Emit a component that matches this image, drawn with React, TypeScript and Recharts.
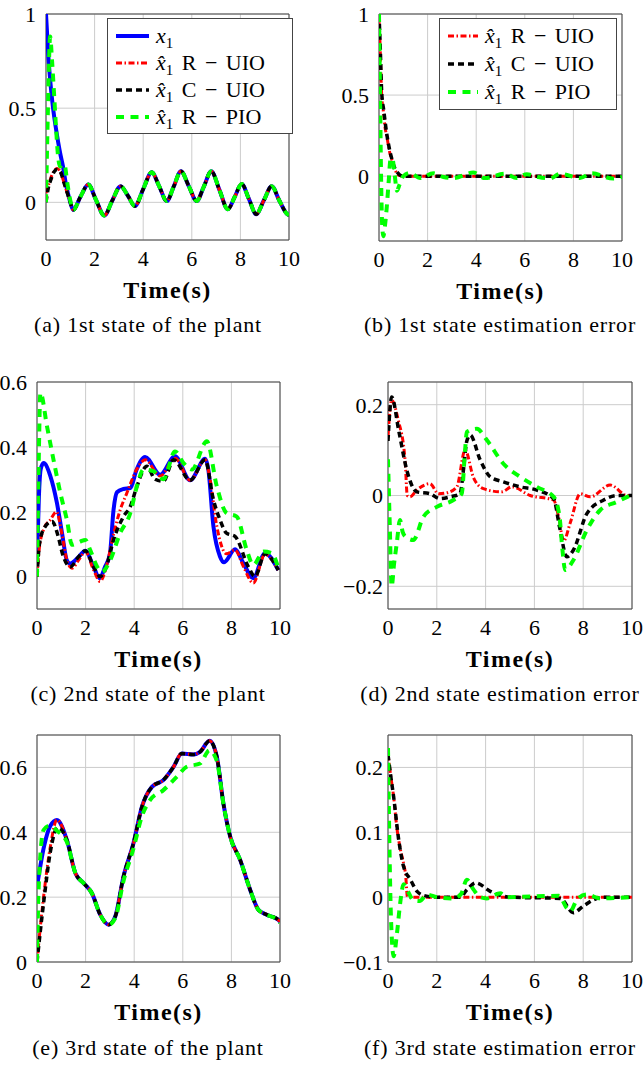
import React from 'react'
import { CartesianGrid, Legend, Line, LineChart, ReferenceArea, XAxis, YAxis } from 'recharts'

type Pt = [number, number]

const X_TICKS = [0, 2, 4, 6, 8, 10]

// (a) 1st state of the plant
const aTail: Pt[] = [[1.12, -0.04], [1.42, 0.03], [1.74, 0.095], [2.05, 0.015], [2.4, -0.07], [2.73, 0.01], [3.07, 0.086], [3.37, 0.035], [3.66, -0.02], [4.0, 0.07], [4.35, 0.16], [4.66, 0.085], [4.97, 0.007], [5.26, 0.085], [5.55, 0.165], [5.88, 0.085], [6.2, 0.007], [6.5, 0.085], [6.8, 0.165], [7.14, 0.065], [7.48, -0.037], [7.77, 0.03], [8.05, 0.098], [8.35, 0.018], [8.65, -0.063], [8.97, 0.012], [9.29, 0.086], [9.6, 0.01], [9.93, -0.063], [10, -0.068]]
const aX1: Pt[] = [[0, 1], [0.1, 0.77], [0.2, 0.61], [0.3, 0.49], [0.4, 0.4], [0.5, 0.32], [0.6, 0.25], [0.7, 0.19], [0.8, 0.11], [0.9, 0.05], [1.0, 0.0], ...aTail]
const aRUIO: Pt[] = [[0, 0.05], [0.1, 0.09], [0.2, 0.13], [0.3, 0.16], [0.45, 0.18], [0.6, 0.16], [0.75, 0.1], [0.9, 0.04], [1.0, 0.0], ...aTail]
const aCUIO: Pt[] = [[0, 0], [0.1, 0.08], [0.2, 0.12], [0.3, 0.155], [0.45, 0.175], [0.6, 0.16], [0.75, 0.1], [0.9, 0.04], [1.0, 0.0], ...aTail]
const aRPIO: Pt[] = [[0, 0], [0.08, 0.5], [0.17, 0.88], [0.25, 0.75], [0.33, 0.58], [0.42, 0.38], [0.5, 0.24], [0.58, 0.19], [0.68, 0.2], [0.76, 0.2], [0.88, 0.1], [1.0, 0.01], ...aTail]

// (b) 1st state estimation error
const bRUIO: Pt[] = [[0, 1], [0.05, 0.78], [0.11, 0.5], [0.18, 0.4], [0.25, 0.3], [0.33, 0.24], [0.42, 0.16], [0.53, 0.1], [0.63, 0.05], [0.74, 0.016], [0.86, 0.003], [1.0, 0], [10, 0]]
const bCUIO: Pt[] = [[0, 1], [0.05, 0.8], [0.11, 0.52], [0.2, 0.4], [0.3, 0.28], [0.4, 0.19], [0.52, 0.11], [0.62, 0.06], [0.72, 0.03], [0.85, 0.008], [1.0, 0], [10, 0]]
const bRPIO: Pt[] = [[0, 1], [0.04, 0.55], [0.08, 0.05], [0.13, -0.3], [0.18, -0.37], [0.25, -0.3], [0.32, -0.19], [0.4, -0.03], [0.47, 0.1], [0.55, 0.11], [0.63, 0.03], [0.74, -0.09], [0.85, -0.05], [1.0, 0.0], [1.28, 0.02], [1.69, -0.012], [2.24, 0.018], [2.65, -0.005], [3.06, -0.012], [3.88, 0.022], [4.36, -0.012], [5.19, 0.015], [5.67, -0.012], [6.08, 0.012], [6.55, -0.005], [7.04, -0.014], [7.45, 0.015], [8.27, -0.012], [8.75, 0.018], [9.64, -0.015], [10, -0.005]]

// (c) 2nd state of the plant
const cX2: Pt[] = [[0, 0.05], [0.08, 0.25], [0.15, 0.33], [0.27, 0.35], [0.55, 0.31], [0.82, 0.227], [1.03, 0.134], [1.23, 0.05], [1.37, 0.04], [1.71, 0.06], [1.99, 0.08], [2.33, 0.03], [2.58, -0.005], [2.8, 0.03], [3.0, 0.07], [3.15, 0.206], [3.29, 0.26], [3.56, 0.27], [3.84, 0.273], [4.1, 0.33], [4.45, 0.369], [5.07, 0.314], [5.68, 0.371], [6.3, 0.297], [6.92, 0.363], [7.05, 0.33], [7.26, 0.155], [7.53, 0.062], [7.7, 0.044], [8.15, 0.084], [8.5, 0.04], [8.9, -0.005], [9.38, 0.072], [9.93, 0.02]]
const cRUIO: Pt[] = [[0, 0], [0.1, 0.09], [0.3, 0.15], [0.55, 0.175], [0.8, 0.2], [1.03, 0.13], [1.23, 0.05], [1.44, 0.026], [1.75, 0.055], [1.99, 0.077], [2.33, 0.02], [2.6, -0.015], [2.85, 0.03], [3.15, 0.13], [3.4, 0.2], [3.7, 0.258], [4.1, 0.33], [4.45, 0.36], [5.07, 0.31], [5.68, 0.365], [6.3, 0.297], [6.92, 0.36], [7.1, 0.31], [7.4, 0.155], [7.8, 0.07], [8.15, 0.082], [8.5, 0.03], [8.9, -0.02], [9.38, 0.068], [9.93, 0.02]]
const cCUIO: Pt[] = [[0, 0], [0.1, 0.1], [0.3, 0.15], [0.62, 0.17], [0.85, 0.13], [1.05, 0.07], [1.37, 0.03], [1.7, 0.06], [1.99, 0.08], [2.33, 0.03], [2.6, 0], [2.85, 0.03], [3.15, 0.113], [3.56, 0.185], [3.84, 0.216], [4.11, 0.278], [4.52, 0.34], [4.86, 0.3], [5.2, 0.294], [5.62, 0.36], [6.3, 0.297], [6.92, 0.36], [7.26, 0.237], [7.53, 0.175], [7.8, 0.134], [8.15, 0.124], [8.7, 0.03], [8.97, 0], [9.38, 0.07], [9.93, 0.02]]
const cRPIO: Pt[] = [[0, 0], [0.07, 0.35], [0.14, 0.567], [0.41, 0.464], [0.68, 0.36], [0.96, 0.258], [1.23, 0.175], [1.44, 0.098], [1.78, 0.108], [1.99, 0.113], [2.19, 0.082], [2.47, 0.031], [2.67, 0.015], [3.01, 0.05], [3.42, 0.134], [3.84, 0.196], [4.11, 0.278], [4.38, 0.33], [4.79, 0.325], [5.2, 0.3], [5.68, 0.386], [6.03, 0.35], [6.37, 0.33], [6.99, 0.417], [7.4, 0.278], [7.8, 0.196], [8.22, 0.185], [8.63, 0.082], [8.9, 0.036], [9.32, 0.077], [9.66, 0.072], [9.93, 0.026]]

// (d) 2nd state estimation error
const dRUIO: Pt[] = [[0, 0.13], [0.15, 0.21], [0.42, 0.166], [0.7, 0.078], [0.79, 0.0], [0.9, -0.003], [1.18, 0.012], [1.72, 0.026], [2.07, 0.004], [2.41, 0.006], [2.82, 0.019], [3.16, 0.1], [3.5, 0.04], [3.91, 0.015], [4.66, 0.008], [5.08, 0.019], [5.83, 0.0], [6.79, -0.01], [6.99, -0.047], [7.2, -0.1], [7.47, -0.06], [7.88, 0.004], [8.29, -0.003], [9.11, 0.023], [9.8, 0], [10, 0]]
const dCUIO: Pt[] = [[0, 0.12], [0.15, 0.217], [0.45, 0.14], [0.77, 0.056], [1.18, 0.008], [1.72, 0.004], [2.13, -0.007], [2.54, -0.003], [2.95, 0.004], [3.1, 0.06], [3.23, 0.12], [3.37, 0.133], [3.78, 0.078], [4.19, 0.041], [4.73, 0.03], [5.42, 0.019], [6.1, 0.012], [6.79, -0.007], [7.03, -0.069], [7.33, -0.135], [7.6, -0.12], [8.15, -0.04], [8.84, -0.01], [9.38, 0], [10, 0]]
const dRPIO: Pt[] = [[0, 0.08], [0.07, -0.06], [0.15, -0.2], [0.25, -0.15], [0.36, -0.105], [0.49, -0.054], [0.6, -0.08], [0.7, -0.09], [1.04, -0.098], [1.45, -0.047], [2.0, -0.025], [2.68, -0.01], [3.02, 0.004], [3.16, 0.1], [3.23, 0.14], [3.64, 0.147], [4.05, 0.122], [4.73, 0.07], [5.42, 0.041], [6.1, 0.019], [6.79, -0.003], [7.03, -0.047], [7.15, -0.12], [7.26, -0.164], [7.6, -0.142], [8.15, -0.076], [8.7, -0.032], [9.38, -0.014], [9.93, 0]]

// (e) 3rd state of the plant
const eTail: Pt[] = [[1.23, 0.376], [1.58, 0.274], [1.92, 0.243], [2.26, 0.212], [2.6, 0.146], [2.95, 0.115], [3.22, 0.14], [3.56, 0.264], [3.97, 0.366], [4.32, 0.479], [4.73, 0.54], [5.2, 0.561], [5.62, 0.602], [5.96, 0.643], [6.44, 0.64], [6.71, 0.648], [7.1, 0.682], [7.4, 0.633], [7.67, 0.489], [7.95, 0.387], [8.36, 0.315], [8.77, 0.223], [9.11, 0.161], [9.45, 0.146], [9.93, 0.13], [10, 0.125]]
const eX3: Pt[] = [[0, 0.233], [0.3, 0.36], [0.55, 0.42], [0.82, 0.438], ...eTail]
const eRUIO: Pt[] = [[0, 0], [0.1, 0.08], [0.27, 0.2], [0.55, 0.356], [0.82, 0.438], ...eTail]
const eCUIO: Pt[] = [[0, 0], [0.1, 0.07], [0.3, 0.2], [0.55, 0.34], [0.85, 0.415], ...eTail]
const eRPIO: Pt[] = [[0, 0], [0.07, 0.233], [0.27, 0.407], [0.5, 0.42], [0.82, 0.405], [1.23, 0.37], [1.58, 0.274], [1.92, 0.243], [2.26, 0.212], [2.6, 0.146], [2.95, 0.115], [3.22, 0.135], [3.56, 0.25], [3.97, 0.35], [4.32, 0.45], [4.66, 0.5], [5.2, 0.53], [5.75, 0.571], [6.16, 0.602], [6.71, 0.612], [7.1, 0.653], [7.4, 0.62], [7.67, 0.489], [7.95, 0.387], [8.36, 0.315], [8.77, 0.223], [9.11, 0.161], [9.45, 0.146], [9.93, 0.128], [10, 0.12]]

// (f) 3rd state estimation error
const fRUIO: Pt[] = [[0, 0.22], [0.1, 0.19], [0.23, 0.155], [0.37, 0.105], [0.5, 0.075], [0.65, 0.05], [0.72, 0.035], [0.8, 0.0], [10, 0]]
const fCUIO: Pt[] = [[0, 0.22], [0.1, 0.19], [0.23, 0.155], [0.44, 0.088], [0.64, 0.047], [0.92, 0.027], [1.19, 0.009], [1.53, 0.002], [2.0, 0], [2.95, 0], [3.25, 0.012], [3.6, 0.022], [4.19, 0.009], [4.6, 0.003], [5.0, 0], [7.06, -0.002], [7.6, -0.024], [8.0, -0.014], [8.43, -0.004], [8.84, 0], [10, 0]]
const fRPIO: Pt[] = [[0, 0.23], [0.05, 0.1], [0.12, -0.03], [0.23, -0.091], [0.37, -0.055], [0.5, -0.009], [0.64, 0.02], [0.8, 0.01], [1.05, -0.005], [1.3, -0.006], [1.6, 0.004], [2.0, 0], [2.68, -0.002], [3.0, 0.005], [3.23, 0.027], [3.5, 0.012], [3.78, 0.0], [4.05, -0.002], [4.6, 0.006], [4.87, 0], [7.0, 0.002], [7.33, -0.017], [7.47, -0.022], [7.74, -0.004], [8.15, 0.004], [8.7, -0.002], [10, 0]]

const FONT = 'Liberation Serif'

type Key = 'x' | 'r' | 'c' | 'p'

const STYLES: Record<Key, { color: string; width: number; dash?: string }> = {
  x: { color: '#0000ff', width: 4 },
  r: { color: '#ff0000', width: 3, dash: '6 2.5 1.5 2.5' },
  c: { color: '#000000', width: 3.5, dash: '6 4' },
  p: { color: '#00ff00', width: 4, dash: '8 6.5' },
}

const sub1 = <span style={{ fontSize: 15, position: 'relative', top: 5 }}>1</span>

const hatX = (name: string) => (
  <>
    <i>x&#770;</i>
    {sub1}
    <span style={{ wordSpacing: 3 }}> {name}</span>
  </>
)

const LABELS: Record<Key, React.ReactNode> = {
  x: (
    <>
      <i>x</i>
      {sub1}
    </>
  ),
  r: hatX('R − UIO'),
  c: hatX('C − UIO'),
  p: hatX('R − PIO'),
}

type LegendCfg = { left: number; top: number; w: number; rowH: number; sampleW: number; keys: Key[] }

type PanelCfg = {
  boxLeft: number
  boxW: number
  plotLeft: number
  plotTop: number
  plotW: number
  plotH: number
  yDomain: [number, number]
  yTicks: number[]
  yGap: number
  series: [Key, Pt[]][]
  legend?: LegendCfg
  caption: string
  capCenter: number
  capBase: number
}

const PANELS: PanelCfg[] = [
  {
    boxLeft: 0, boxW: 300, plotLeft: 46, plotTop: 14, plotW: 243, plotH: 226,
    yDomain: [-0.2, 1], yTicks: [0, 0.5, 1], yGap: 10,
    series: [['x', aX1], ['r', aRUIO], ['c', aCUIO], ['p', aRPIO]],
    legend: { left: 107, top: 18, w: 186, rowH: 27, sampleW: 33, keys: ['x', 'r', 'c', 'p'] },
    caption: '(a) 1st state of the plant', capCenter: 148, capBase: 334,
  },
  {
    boxLeft: 322, boxW: 321, plotLeft: 379, plotTop: 14, plotW: 243, plotH: 227,
    yDomain: [-0.4, 1], yTicks: [0, 0.5, 1], yGap: 10,
    series: [['r', bRUIO], ['c', bCUIO], ['p', bRPIO]],
    legend: { left: 117, top: 18, w: 178, rowH: 28, sampleW: 30, keys: ['r', 'c', 'p'] },
    caption: '(b) 1st state estimation error', capCenter: 500, capBase: 334,
  },
  {
    boxLeft: 0, boxW: 300, plotLeft: 37, plotTop: 382, plotW: 243, plotH: 227,
    yDomain: [-0.1, 0.6], yTicks: [0, 0.2, 0.4, 0.6], yGap: 10,
    series: [['x', cX2], ['r', cRUIO], ['c', cCUIO], ['p', cRPIO]],
    caption: '(c) 2nd state of the plant', capCenter: 148, capBase: 703,
  },
  {
    boxLeft: 322, boxW: 321, plotLeft: 388, plotTop: 382, plotW: 244, plotH: 227,
    yDomain: [-0.25, 0.25], yTicks: [-0.2, 0, 0.2], yGap: 5,
    series: [['r', dRUIO], ['c', dCUIO], ['p', dRPIO]],
    caption: '(d) 2nd state estimation error', capCenter: 500, capBase: 703,
  },
  {
    boxLeft: 0, boxW: 300, plotLeft: 37, plotTop: 735, plotW: 243, plotH: 227,
    yDomain: [0, 0.7], yTicks: [0, 0.2, 0.4, 0.6], yGap: 10,
    series: [['x', eX3], ['r', eRUIO], ['c', eCUIO], ['p', eRPIO]],
    caption: '(e) 3rd state of the plant', capCenter: 148, capBase: 1057,
  },
  {
    boxLeft: 322, boxW: 321, plotLeft: 388, plotTop: 735, plotW: 244, plotH: 227,
    yDomain: [-0.1, 0.25], yTicks: [-0.1, 0, 0.1, 0.2], yGap: 5,
    series: [['r', fRUIO], ['c', fCUIO], ['p', fRPIO]],
    caption: '(f) 3rd state estimation error', capCenter: 500, capBase: 1057,
  },
]

const fmt = (v: number) => (v < 0 ? '−' : '') + String(Math.abs(v))

function LegendBox({ cfg }: { cfg: LegendCfg }) {
  return (
    <div
      style={{
        boxSizing: 'border-box', width: cfg.w, background: '#fff', border: '1px solid #444',
        padding: '3px 6px 3px 8px', fontFamily: FONT, fontSize: 22, color: '#000',
      }}
    >
      {cfg.keys.map((k) => {
        const s = STYLES[k]
        return (
          <div key={k} style={{ display: 'flex', alignItems: 'center', height: cfg.rowH, whiteSpace: 'nowrap' }}>
            <svg width={cfg.sampleW} height={8} style={{ marginRight: 7, flex: 'none' }}>
              <line x1={0} y1={4} x2={cfg.sampleW} y2={4} stroke={s.color} strokeWidth={s.width} strokeDasharray={s.dash} />
            </svg>
            <span style={{ lineHeight: 1 }}>{LABELS[k]}</span>
          </div>
        )
      })}
    </div>
  )
}

const MT = 14
const XH = 70

function Panel({ p }: { p: PanelCfg }) {
  const yW = p.plotLeft - p.boxLeft
  const right = p.boxW - yW - p.plotW
  const h = MT + p.plotH + XH
  const tickStyle = { fontSize: 22, fill: '#000', fontFamily: FONT }
  return (
    <div style={{ position: 'absolute', left: p.boxLeft, top: p.plotTop - MT }}>
      <LineChart width={p.boxW} height={h} margin={{ top: MT, right, bottom: 0, left: 0 }}>
        <CartesianGrid stroke="#cccccc" strokeWidth={1} />
        <XAxis
          type="number" dataKey="t" domain={[0, 10]} ticks={X_TICKS} interval={0} allowDataOverflow
          axisLine={false} tickLine={false} tickSize={0} tickMargin={10} height={XH} tick={tickStyle}
          label={{ value: 'Time(s)', position: 'insideBottom', offset: XH - 58, fontSize: 24, fontWeight: 'bold', fill: '#000', fontFamily: FONT, letterSpacing: 1.5 }}
        />
        <YAxis
          type="number" domain={p.yDomain} ticks={p.yTicks} interval={0} allowDataOverflow width={yW}
          axisLine={false} tickLine={false} tickSize={0} tickMargin={p.yGap} tick={tickStyle} tickFormatter={fmt}
        />
        {p.series.map(([k, pts]) => {
          const s = STYLES[k]
          return (
            <Line
              key={k} data={pts.map(([t, v]) => ({ t, v }))} dataKey="v" type="monotone"
              stroke={s.color} strokeWidth={s.width} strokeDasharray={s.dash}
              dot={false} activeDot={false} isAnimationActive={false}
            />
          )
        })}
        <ReferenceArea x1={0} x2={10} y1={p.yDomain[0]} y2={p.yDomain[1]} fill="none" stroke="#444" strokeWidth={1} />
        {p.legend && (
          <Legend
            layout="vertical" align="center" verticalAlign="middle"
            wrapperStyle={{ left: p.legend.left, top: p.legend.top, width: 'auto', height: 'auto' }}
            content={() => <LegendBox cfg={p.legend!} />}
          />
        )}
      </LineChart>
    </div>
  )
}

export default function App() {
  return (
    <div style={{ position: 'absolute', left: 0, top: 0, width: 643, height: 1066, overflow: 'hidden', background: '#fff' }}>
      {PANELS.map((p, i) => (
        <React.Fragment key={i}>
          <Panel p={p} />
          <div
            style={{
              position: 'absolute', left: p.capCenter - 145, width: 290, top: p.capBase - 19.6, textAlign: 'center',
              fontFamily: FONT, fontSize: 22, lineHeight: '22px', letterSpacing: 0.8, whiteSpace: 'nowrap', color: '#000',
            }}
          >
            {p.caption}
          </div>
        </React.Fragment>
      ))}
    </div>
  )
}
